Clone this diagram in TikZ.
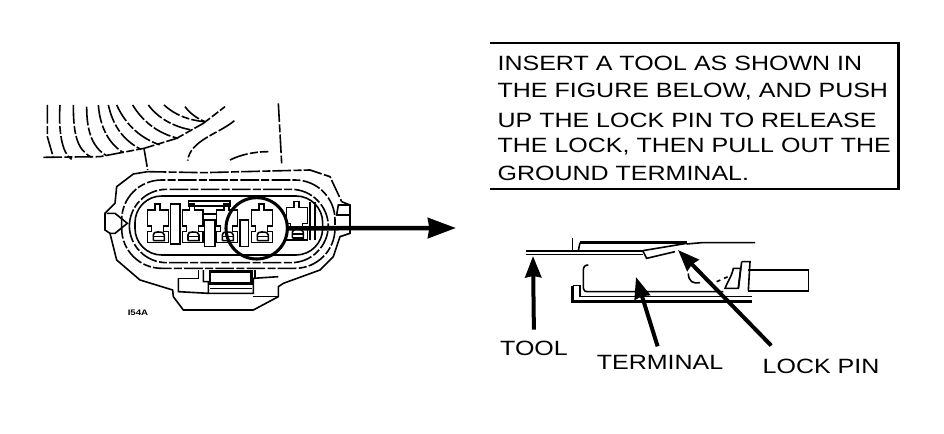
\documentclass[tikz,border=0pt]{standalone}
\usepackage{fontspec}
\setmainfont{Liberation Sans}
\newfontfamily\widefont[FakeStretch=1.21]{Liberation Sans}
\usetikzlibrary{arrows.meta}
\tikzstyle{pxlen} = [x=0.25pt,y=-0.25pt]
\tikzstyle{thin part} = [line width=1.2pt]
\tikzstyle{broken part} = [line width=1.2pt,dash pattern=on 14pt off 1.8pt on 6pt off 1.6pt]
\tikzstyle{heavy part} = [line width=1.8pt]
\tikzstyle{callout} = [line width=3pt,-{Stealth[length=16pt,width=12pt,inset=1pt]}]
\tikzstyle{callname} = [font=\widefont\fontsize{15.5pt}{15.5pt}\selectfont,inner sep=1pt]
\newcommand{\cavity}[2][]{
 \begin{scope}[shift={(#2)},#1]
  \draw[thin part] (0,25) -- (0,0) -- (22,0) -- (22,-18) -- (37,-18) -- (37,0) -- (62,0) -- (62,48) -- (48,48) -- (48,65) -- (62,65) -- (62,98) -- (0,98) -- (0,65) -- (12,65) -- (12,48) -- (0,48) -- (0,25);
  \draw[thin part] (17,92) -- (17,75) .. controls (17,68) and (22,66) .. (30,66) .. controls (44,66) and (50,68) .. (50,75) -- (50,92) -- (17,92);
  \draw[thin part] (20,80) -- (48,80);
 \end{scope}
}
\begin{document}
\begin{tikzpicture}[x=0.75pt,y=-0.75pt]
 \useasboundingbox (0,0) rectangle (944,434);

 % instruction box
 \node (notebox) [minimum width=306pt,minimum height=109pt,anchor=north west,inner sep=0pt] at (490,43) {};
 \draw[line width=2pt] (notebox.north west) -- (notebox.north east) -- (notebox.south east) -- (notebox.south west);
 \node (noteone) [callname,anchor=west] at (496,63) {INSERT A TOOL AS SHOWN IN};
 \node (notetwo) [callname,anchor=west] at (496,92) {THE FIGURE BELOW, AND PUSH};
 \node (notethree) [callname,anchor=west] at (496,120) {UP THE LOCK PIN TO RELEASE};
 \node (notefour) [callname,anchor=west] at (496,147) {THE LOCK, THEN PULL OUT THE};
 \node (notefive) [callname,anchor=west] at (496,173) {GROUND TERMINAL.};

 % connector
 \begin{scope}[shift={(20,70)},pxlen]
  % wire bundle
  \draw[broken part] (82,105) -- (82,200) -- (100,262);
  \draw[broken part] (120,105) .. controls (115,180) and (125,250) .. (155,268);
  \draw[broken part] (160,105) .. controls (160,190) and (170,240) .. (215,262);
  \draw[broken part] (200,110) .. controls (200,180) and (215,230) .. (258,256);
  \draw[broken part] (235,105) .. controls (240,170) and (265,220) .. (310,248);
  \draw[broken part] (265,105) .. controls (280,170) and (310,210) .. (362,238);
  \draw[broken part] (290,105) .. controls (320,170) and (365,205) .. (420,225);
  \draw[broken part] (338,105) .. controls (365,150) and (410,190) .. (475,205);
  \draw[broken part] (385,105) .. controls (415,145) and (460,170) .. (515,180);
  \draw[broken part] (432,105) .. controls (465,135) and (505,150) .. (552,155);
  \draw[broken part] (495,110) .. controls (510,130) and (530,145) .. (555,155);
  \draw[broken part] (70,262) -- (240,260) -- (372,235) -- (470,205) -- (550,160) -- (615,110);
  \draw[broken part] (372,235) -- (383,300);
  \draw[broken part] (643,152) .. controls (600,190) and (510,210) .. (503,272);
  \draw[broken part] (630,270) .. controls (660,255) and (700,245) .. (745,245);
  \draw[broken part] (775,100) -- (785,280);
  % housing
  \draw[broken part] (383,305) -- (550,308) -- (870,300) -- (930,320) -- (965,395);
  \draw[thin part] (965,395) -- (990,405) -- (990,490) -- (960,500) -- (940,560) -- (900,600) -- (790,640) -- (775,650) -- (775,680) -- (700,720) -- (490,720) -- (460,680) -- (458,660) -- (360,630) -- (290,570) -- (270,490) -- (255,480) -- (255,430) -- (285,400) -- (290,350) -- (340,312) -- (383,305);
  \draw[broken part,rounded corners=30pt] (305,330) rectangle (945,595);
  \draw[broken part,rounded corners=28pt] (328,358) rectangle (925,578);
  \draw[thin part,rounded corners=20pt] (345,378) rectangle (908,555);
  \draw[thin part] (260,430) -- (285,430) -- (322,460) -- (285,490) -- (270,490);
  \draw[thin part] (990,405) -- (955,405) -- (950,435) -- (990,435);
  % cavities
  \cavity{383,420}
  \cavity{487,420}
  \cavity{590,420}
  \cavity{695,420}
  \cavity{800,412}
  \draw[thin part] (452,402) rectangle (480,522);
  \draw[thin part] (505,393) -- (630,393) -- (630,408) -- (505,408) -- cycle;
  \draw[thin part] (553,432) -- (590,432);
  \draw[thin part] (553,450) rectangle (585,530);
  \draw[thin part] (660,450) rectangle (685,530);
  \draw[thin part] (870,395) -- (870,510);
  \draw[thin part] (885,395) -- (885,510);
  % latch
  \draw[thin part] (475,625) -- (535,625) -- (535,600);
  \draw[thin part] (550,600) -- (550,635) -- (565,635) -- (565,670) -- (700,670) -- (700,625) -- (775,620);
  \draw[thin part] (475,625) -- (475,665) -- (565,670);
  \draw[heavy part] (570,605) -- (695,605) -- (695,640) -- (570,640) -- cycle;
  \draw[thin part] (570,655) -- (695,655);
  \draw[thin part] (705,600) -- (705,625);
  \draw[thin part] (700,680) -- (775,680);
  \node (lens) [circle,draw,line width=2.3pt,minimum size=46pt,inner sep=0pt] at (710,475) {};
 \end{scope}
 \node (partcode) [font=\widefont\fontsize{6pt}{6pt}\selectfont\bfseries,inner sep=0pt] at (138,313) {I54A};
 \coordinate (lenstip) at (456,228);
 \draw[line width=3.4pt,-{Stealth[length=21pt,width=15pt,inset=1pt]}] (lens.east) -- (lenstip);

 % terminal section
 \begin{scope}[shift={(490,220)},pxlen]
  \draw[heavy part] (108,93) -- (460,93);
  \draw[thin part] (108,103) -- (460,103);
  \draw[thin part] (248,55) -- (248,92);
  \draw[thin part] (265,92) -- (270,68);
  \draw[heavy part] (270,68) -- (590,68);
  \draw[thin part] (590,72) -- (635,68) -- (795,68);
  % lock pin
  \draw[thin part] (458,92) -- (590,70);
  \draw[thin part] (458,92) -- (470,115) -- (555,95);
  % terminal
  \draw[thin part] (295,135) .. controls (285,135) and (280,140) .. (280,150) -- (280,205) .. controls (280,212) and (285,215) .. (295,215) -- (700,215);
  \draw[thin part] (248,197) -- (270,197) -- (270,230) -- (785,230);
  \draw[heavy part] (248,197) -- (248,245) -- (785,245);
  \draw[thin part] (595,160) .. controls (595,185) and (610,192) .. (630,188);
  \draw[thin part,dashed] (680,185) -- (725,165);
  \draw[thin part] (730,145) .. controls (725,170) and (710,190) .. (705,205) -- (745,205) -- (752,145) -- cycle;
  \draw[thin part] (755,125) -- (780,125) -- (775,212);
  \draw[thin part] (755,125) -- (745,205);
  \draw[thin part] (775,150) -- (955,150) -- (955,213) -- (775,213);
 \end{scope}

 % labels
 \node (tool) [callname,anchor=north] at (534,339) {TOOL};
 \node (terminal) [callname,anchor=north] at (660,354) {TERMINAL};
 \node (lockpin) [callname,anchor=north] at (821,357) {LOCK PIN};
 \coordinate (tooltip) at (533,256);
 \coordinate (terminaltip) at (636,277);
 \coordinate (lockpintip) at (678,250);
 \draw[callout,shorten <=7pt] (tool.north) -- (tooltip);
 \draw[callout,shorten <=6pt] (terminal.north) -- (terminaltip);
 \draw[callout,shorten <=12pt] (lockpin.167) -- (lockpintip);
\end{tikzpicture}
\end{document}
